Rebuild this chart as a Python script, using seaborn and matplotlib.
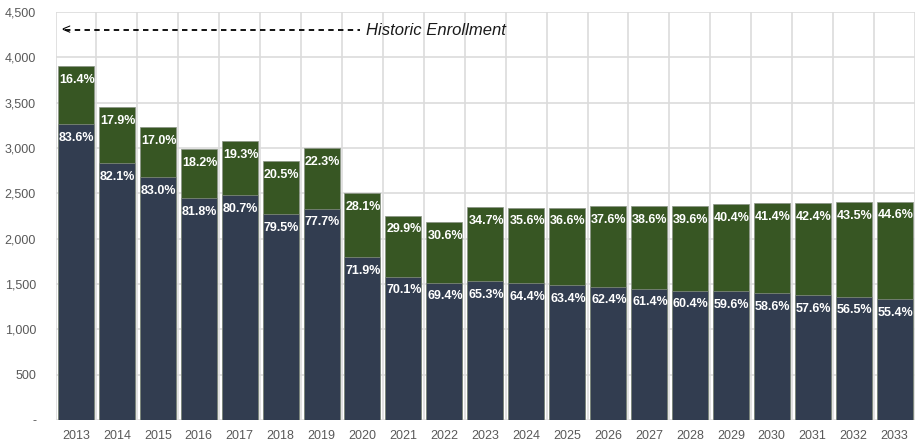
import matplotlib
matplotlib.use("Agg")
import matplotlib.pyplot as plt
import seaborn as sns
import numpy as np
from matplotlib.ticker import FuncFormatter, MultipleLocator

# Dados
anos = [str(a) for a in range(2013, 2034)]
total = [3900, 3450, 3230, 2990, 3075, 2855, 3000, 2500, 2255, 2185, 2345,
         2342, 2342, 2358, 2358, 2360, 2378, 2390, 2392, 2405, 2407]
pct_escuro = [83.6, 82.1, 83.0, 81.8, 80.7, 79.5, 77.7, 71.9, 70.1, 69.4, 65.3,
              64.4, 63.4, 62.4, 61.4, 60.4, 59.6, 58.6, 57.6, 56.5, 55.4]
pct_verde = [16.4, 17.9, 17.0, 18.2, 19.3, 20.5, 22.3, 28.1, 29.9, 30.6, 34.7,
             35.6, 36.6, 37.6, 38.6, 39.6, 40.4, 41.4, 42.4, 43.5, 44.6]

escuro = [t * p / 100 for t, p in zip(total, pct_escuro)]

cor_escuro = "#323d50"
cor_verde = "#375623"
largura = 0.88

sns.set_style("white")
plt.rcParams["font.family"] = ["Liberation Sans", "DejaVu Sans"]

fig = plt.figure(figsize=(9.15, 4.47), dpi=100)
ax = fig.add_axes([55.5 / 915, 27 / 447, (915 - 55.5) / 915, 408 / 447])

sns.barplot(x=anos, y=total, color=cor_verde, saturation=1, width=largura,
            edgecolor="#8a9385", linewidth=0.5, ax=ax, zorder=3)
sns.barplot(x=anos, y=escuro, color=cor_escuro, saturation=1, width=largura,
            edgecolor="#8a9385", linewidth=0.5, ax=ax, zorder=3)

# Rótulos de porcentagem
for i in range(len(anos)):
    x0 = i - largura / 2
    ax.annotate(f"{pct_verde[i]:.1f}%", (x0, total[i]), xytext=(0.8, -5.5),
                textcoords="offset points", ha="left", va="top",
                color="white", fontsize=9, fontweight="bold", zorder=5)
    ax.annotate(f"{pct_escuro[i]:.1f}%", (x0, escuro[i]), xytext=(0.8, -5.5),
                textcoords="offset points", ha="left", va="top",
                color="white", fontsize=9, fontweight="bold", zorder=5)

# Seta "Historic Enrollment"
ax.plot([-0.26, 6.95], [4300, 4300], color="black", lw=1.3,
        linestyle=(0, (3.0, 2.4)), zorder=4)
ax.text(-0.37, 4300, "<", ha="left", va="center", fontsize=11, color="black")
ax.text(7.08, 4300, "Historic Enrollment", ha="left", va="center",
        fontsize=12, style="italic", color="#1a1a1a")

ax.set_xlim(-0.5, 20.41)
ax.set_ylim(0, 4500)
ax.yaxis.set_major_locator(MultipleLocator(500))
ax.yaxis.set_major_formatter(FuncFormatter(lambda v, p: "-" if v == 0 else f"{v:,.0f}"))
ax.set_xticks(np.arange(len(anos)) + 0.5, minor=True)
ax.grid(axis="y", which="major", color="#dcdcdc", lw=1.2, zorder=0)
ax.grid(axis="x", which="minor", color="#dcdcdc", lw=1.2, zorder=0)
ax.grid(axis="x", which="major", visible=False)
ax.axvline(-0.5, color="#dcdcdc", lw=1.2, zorder=0)
ax.set_axisbelow(True)
for s in ax.spines.values():
    s.set_visible(False)
ax.tick_params(axis="both", which="both", length=0, labelsize=9, labelcolor="#595959")
ax.tick_params(axis="y", pad=14)
ax.tick_params(axis="x", pad=7)
ax.set_xlabel("")
ax.set_ylabel("")

plt.savefig("out.png", dpi=100)
plt.close()
